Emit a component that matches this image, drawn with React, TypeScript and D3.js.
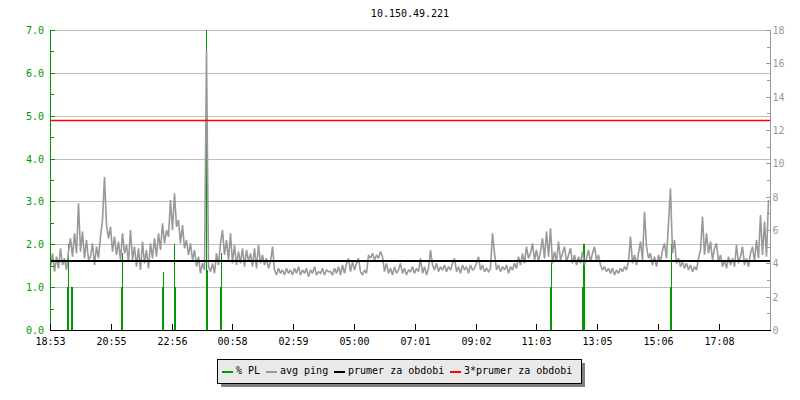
import React from 'react';
import * as d3 from 'd3';

const title = '10.150.49.221';
const spanMinutes = 1440;
const tickMinutes = [0, 121.6, 243.2, 364.8, 486.4, 608, 729.6, 851.2, 972.8, 1094.4, 1216, 1337.6];
const tickLabels = ['18:53', '20:55', '22:56', '00:58', '02:59', '05:00', '07:01', '09:02', '11:03', '13:05', '15:06', '17:08'];
const plTicks = [0, 1, 2, 3, 4, 5, 6, 7];
const plMinorTicks = [0.5, 1.5, 2.5, 3.5, 4.5, 5.5, 6.5];
const pingTicks = [0, 2, 4, 6, 8, 10, 12, 14, 16, 18];
const pingMinorTicks = [1, 3, 5, 7, 9, 11, 13, 15, 17];

const pingStepMinutes = 4;
const pingMs = [
  3.8, 4.6, 3.5, 4.4, 3.7, 4.9, 3.9, 4.3, 3.6, 4.7, 5.5, 4.4, 5.8, 4.6, 7.6, 4.7, 5.9, 4.3, 5.4, 4.2,
  4.4, 5.2, 3.9, 5.0, 4.3, 5.6, 6.6, 9.2, 6.3, 5.5, 6.2, 4.7, 5.6, 4.5, 5.3, 4.2, 5.8, 4.6, 5.1, 4.1,
  6.0, 4.2, 5.0, 3.8, 4.9, 3.6, 5.3, 4.0, 4.8, 3.7, 5.2, 4.3, 5.5, 4.4, 5.8, 4.8, 6.4, 5.2, 6.0, 5.6,
  7.8, 6.0, 8.2, 6.2, 6.6, 5.2, 6.3, 4.9, 5.4, 4.5, 5.2, 4.2, 4.8, 3.8, 4.4, 3.4, 4.0, 3.6, 16.8, 3.8,
  3.5, 4.0, 3.4, 4.6, 3.9, 5.2, 6.0, 4.5, 5.4, 4.2, 5.8, 4.0, 5.1, 3.9, 4.7, 4.0, 4.9, 3.8, 4.8, 4.1,
  4.6, 3.8, 4.9, 3.7, 5.1, 4.0, 4.5, 3.9, 4.3, 3.7, 4.1, 5.0, 3.6, 3.3, 3.7, 3.4, 3.6, 3.3, 3.7, 3.4,
  3.6, 3.3, 3.7, 3.4, 3.8, 3.3, 3.6, 3.4, 3.7, 3.2, 3.6, 3.4, 3.8, 3.3, 3.5, 3.4, 3.7, 3.3, 3.6, 3.5,
  3.5, 3.3, 3.7, 3.4, 3.8, 3.3, 3.9, 3.4, 4.0, 4.3, 3.5, 4.1, 3.6, 4.0, 4.3, 3.5, 3.3, 3.6, 3.4, 4.5,
  4.3, 4.6, 4.2, 4.5, 4.3, 4.7, 4.4, 3.5, 4.0, 3.4, 3.7, 3.3, 3.8, 3.4, 3.6, 4.0, 3.4, 3.7, 3.3, 3.6,
  3.5, 3.8, 3.4, 3.7, 3.5, 4.3, 3.4, 3.8, 3.3, 3.7, 4.8, 3.9, 3.6, 4.0, 3.5, 3.8, 3.6, 3.9, 3.5, 3.8,
  3.6, 4.0, 4.3, 3.5, 3.8, 3.4, 3.9, 3.6, 3.8, 3.4, 3.9, 3.6, 3.7, 4.0, 4.4, 3.6, 3.9, 3.5, 3.7, 3.5,
  3.7, 5.8, 4.6, 3.6, 3.9, 3.5, 3.8, 3.6, 3.9, 3.4, 3.8, 3.6, 4.0, 3.7, 4.4, 3.9, 4.6, 4.0, 5.0, 4.3,
  4.6, 5.2, 4.2, 4.8, 4.1, 4.7, 5.5, 4.3, 5.9, 4.4, 6.1, 4.0, 4.7, 4.1, 5.3, 4.2, 4.6, 5.0, 4.1, 4.5,
  4.9, 4.0, 4.5, 3.9, 4.4, 4.0, 4.7, 3.9, 4.3, 4.8, 4.1, 4.6, 5.0, 4.2, 4.5, 3.9, 3.6, 3.8, 3.5, 3.7,
  3.4, 3.7, 3.3, 3.6, 3.4, 3.7, 3.5, 3.8, 3.6, 4.1, 5.6, 4.0, 4.5, 3.9, 4.6, 5.3, 4.2, 7.1, 5.0, 4.3,
  4.6, 3.9, 4.4, 3.8, 4.5, 4.1, 4.8, 5.2, 4.3, 6.4, 8.5, 4.6, 5.4, 4.0, 4.3, 3.8, 4.1, 3.7, 4.0, 3.6,
  3.9, 3.5, 3.8, 3.6, 4.3, 4.8, 6.8, 4.5, 5.8, 4.6, 5.3, 4.2, 4.9, 5.2, 4.1, 4.5, 3.8, 4.2, 3.7, 4.4,
  3.9, 4.3, 3.8, 5.1, 4.0, 4.4, 5.0, 3.9, 4.3, 3.8, 4.6, 5.0, 4.1, 5.4, 4.3, 6.9, 4.5, 6.5, 4.4, 7.8,
];

const plMinutes = [34, 36, 42, 44, 142, 144, 224, 226, 248, 250, 312, 314, 340, 342, 1000, 1002, 1064, 1066, 1068, 1240, 1242];
const plValues = [1.0, 2.0, 1.0, 1.0, 1.0, 1.8, 1.0, 1.36, 2.0, 1.0, 7.0, 1.4, 1.0, 1.8, 1.0, 1.6, 1.0, 2.0, 2.0, 1.0, 2.0];

const meanPing = 4.14;
const triplePing = 12.57;

const legendLabels = ['% PL', 'avg ping', 'prumer za obdobi', '3*prumer za obdobi'];
const legendColors = ['#009900', '#999999', '#000000', '#ff0000'];

const FONT = "'DejaVu Sans Mono', monospace";
const px = (v: number) => Math.round(v) + 0.5;

export default function App() {
  const x = d3.scaleLinear().domain([0, spanMinutes]).range([50, 770]);
  const yL = d3.scaleLinear().domain([0, 7]).range([330, 30]);
  const yR = d3.scaleLinear().domain([0, 18]).range([330, 30]);
  const [x0, x1] = x.range();
  const [yBottom, yTop] = yL.range();

  const pingLine = d3
    .line<number>()
    .x((_, i) => x(i * pingStepMinutes) + 0.5)
    .y((d) => yR(d))
    .curve(d3.curveLinear);

  let cursor = 222;
  const legendItems = legendLabels.map((label, i) => {
    const item = { label, color: legendColors[i], sx: cursor, tx: cursor + 14 };
    cursor = item.tx + label.length * 6 + 6;
    return item;
  });
  const legendX = 217;
  const legendRight = legendItems[legendItems.length - 1].tx + legendLabels[legendLabels.length - 1].length * 6 + 9;
  const legendW = legendRight - legendX;

  return (
    <svg
      width={800}
      height={400}
      style={{ position: 'absolute', left: 0, top: 0, background: '#fff' }}
      fontFamily={FONT}
      fontSize={10}
    >
      <rect x={0} y={0} width={800} height={400} fill="#fff" />
      <text x={(x0 + x1) / 2} y={17} textAnchor="middle" fill="#000">
        {title}
      </text>

      <g stroke="#c0c0c0" strokeWidth={1} shapeRendering="crispEdges">
        {plTicks.filter((t) => t > 0).map((t) => (
          <line key={t} x1={x0} x2={x1} y1={px(yL(t))} y2={px(yL(t))} />
        ))}
      </g>

      <g fill="#009900" shapeRendering="crispEdges">
        {plMinutes.map((m, i) => (
          <rect
            key={i}
            x={x(m)}
            width={x(m + 2) - x(m)}
            y={yL(Math.min(plValues[i], 7))}
            height={yBottom - yL(Math.min(plValues[i], 7))}
          />
        ))}
      </g>

      <path d={pingLine(pingMs) || ''} fill="none" stroke="#999999" strokeWidth={1.6} strokeLinejoin="miter" strokeMiterlimit={2} />

      <line x1={x0} x2={x1} y1={yR(meanPing)} y2={yR(meanPing)} stroke="#000" strokeWidth={2} shapeRendering="crispEdges" />
      <line x1={x0} x2={x1} y1={yR(triplePing)} y2={yR(triplePing)} stroke="#ff0000" strokeWidth={1.5} />

      <g shapeRendering="crispEdges" stroke="#009900">
        <line x1={px(x0)} x2={px(x0)} y1={yTop} y2={yBottom + 1} />
        {plTicks.map((t) => (
          <line key={t} x1={x0} x2={x0 + 5} y1={px(yL(t))} y2={px(yL(t))} />
        ))}
        {plMinorTicks.map((t) => (
          <line key={t} x1={x0} x2={x0 + 4} y1={px(yL(t))} y2={px(yL(t))} />
        ))}
      </g>
      <g fill="#009900" textAnchor="end">
        {plTicks.map((t) => (
          <text key={t} x={44} y={Math.round(yL(t)) + 4}>
            {t.toFixed(1)}
          </text>
        ))}
      </g>

      <g shapeRendering="crispEdges" stroke="#999999">
        <line x1={px(x1)} x2={px(x1)} y1={yTop} y2={yBottom + 1} />
        {pingTicks.map((t) => (
          <line key={t} x1={x1 - 4} x2={x1} y1={px(yR(t))} y2={px(yR(t))} />
        ))}
        {pingMinorTicks.map((t) => (
          <line key={t} x1={x1 - 3} x2={x1} y1={px(yR(t))} y2={px(yR(t))} />
        ))}
      </g>
      <g fill="#999999" textAnchor="start">
        {pingTicks.map((t) => (
          <text key={t} x={x1 + 2.5} y={Math.round(yR(t)) + 4}>
            {t}
          </text>
        ))}
      </g>

      <g shapeRendering="crispEdges" stroke="#000">
        <line x1={x0} x2={x1 + 1} y1={px(yBottom)} y2={px(yBottom)} />
        {tickMinutes.map((m) => (
          <line key={m} x1={px(x(m))} x2={px(x(m))} y1={yBottom - 6} y2={yBottom} />
        ))}
      </g>
      <g fill="#000" textAnchor="middle">
        {tickMinutes.map((m, i) => (
          <text key={m} x={Math.round(x(m)) + 0.5} y={345}>
            {tickLabels[i]}
          </text>
        ))}
      </g>

      <rect x={legendX + 4} y={363} width={legendW} height={24} fill="#808080" />
      <rect x={legendX + 0.5} y={359.5} width={legendW} height={24} fill="#e9e9e9" stroke="#000" strokeWidth={1} shapeRendering="crispEdges" />
      {legendItems.map((it) => (
        <g key={it.label}>
          <rect x={it.sx} y={371} width={11} height={2} fill={it.color} shapeRendering="crispEdges" />
          <text x={it.tx} y={374} fill="#000">
            {it.label}
          </text>
        </g>
      ))}
    </svg>
  );
}
